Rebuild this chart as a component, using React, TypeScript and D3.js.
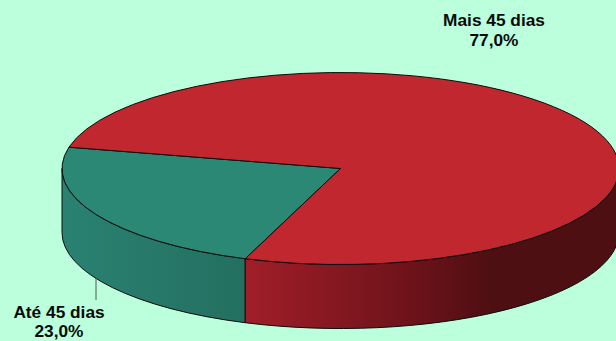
import React from "react";
import * as d3 from "d3";

const categories = ["Até 45 dias", "Mais 45 dias"];
const shares = [23.0, 77.0];
const shareLabels = ["23,0%", "77,0%"];
const topColors = ["#2a8875", "#c0272f"];

const W = 616, H = 341;
const cx = 340.5, cy = 168.5, rx = 278.5, ry = 96, depth = 64;
const startDeg = 200;
const rad = (d: number) => (d * Math.PI) / 180;

const pie = d3.pie<number>().sort(null).startAngle(rad(startDeg)).endAngle(rad(startDeg + 360));
const slices = pie(shares);
const arc = d3.arc<any>().innerRadius(0).outerRadius(1);
const px = (a: number) => cx + rx * Math.sin(a);
const py = (a: number) => cy - ry * Math.cos(a);

function sidePath(a0: number, a1: number) {
  const x0 = px(a0), y0 = py(a0), x1 = px(a1), y1 = py(a1);
  return `M${x0},${y0}A${rx},${ry} 0 0 1 ${x1},${y1}L${x1},${y1 + depth}A${rx},${ry} 0 0 0 ${x0},${y0 + depth}Z`;
}

const greenStart = slices[0].startAngle;
const frontRight = rad(90), frontLeft = rad(270);

export default function App() {
  const line = "#0c0c0c";
  return (
    <svg width={W} height={H} viewBox={`0 0 ${W} ${H}`} style={{ position: "absolute", left: 0, top: 0, display: "block", background: "#bbffdd" }}>
      <defs>
        <linearGradient id="sideG" gradientUnits="userSpaceOnUse" x1={62} x2={246} y1={0} y2={0}>
          <stop offset="0" stopColor="#2a8272" />
          <stop offset="1" stopColor="#236f60" />
        </linearGradient>
        <linearGradient id="sideR" gradientUnits="userSpaceOnUse" x1={246} x2={490} y1={0} y2={0}>
          <stop offset="0" stopColor="#a01e29" />
          <stop offset="0.7" stopColor="#6c1219" />
          <stop offset="1" stopColor="#4e0f13" />
        </linearGradient>
      </defs>
      <path d={sidePath(greenStart, frontLeft)} fill="url(#sideG)" stroke={line} strokeWidth={1} />
      <path d={sidePath(frontRight, greenStart)} fill="url(#sideR)" stroke={line} strokeWidth={1} />
      <g transform={`translate(${cx},${cy}) scale(${rx},${ry})`}>
        {slices.map((s, i) => (
          <path key={categories[i]} d={arc(s) as string} fill={topColors[i]} stroke={line} strokeWidth={1} vectorEffect="non-scaling-stroke" />
        ))}
      </g>
      <line x1={96} x2={96} y1={278} y2={300} stroke="#555" strokeWidth={1} />
      <g fontFamily="'Liberation Sans', Arial, sans-serif" fontWeight={700} fontSize={17.3} fill="#0a0a0a" textAnchor="middle">
        <text x={59} y={318}>{categories[0]}</text>
        <text x={59} y={337}>{shareLabels[0]}</text>
        <text x={494} y={26}>{categories[1]}</text>
        <text x={494} y={46}>{shareLabels[1]}</text>
      </g>
    </svg>
  );
}
